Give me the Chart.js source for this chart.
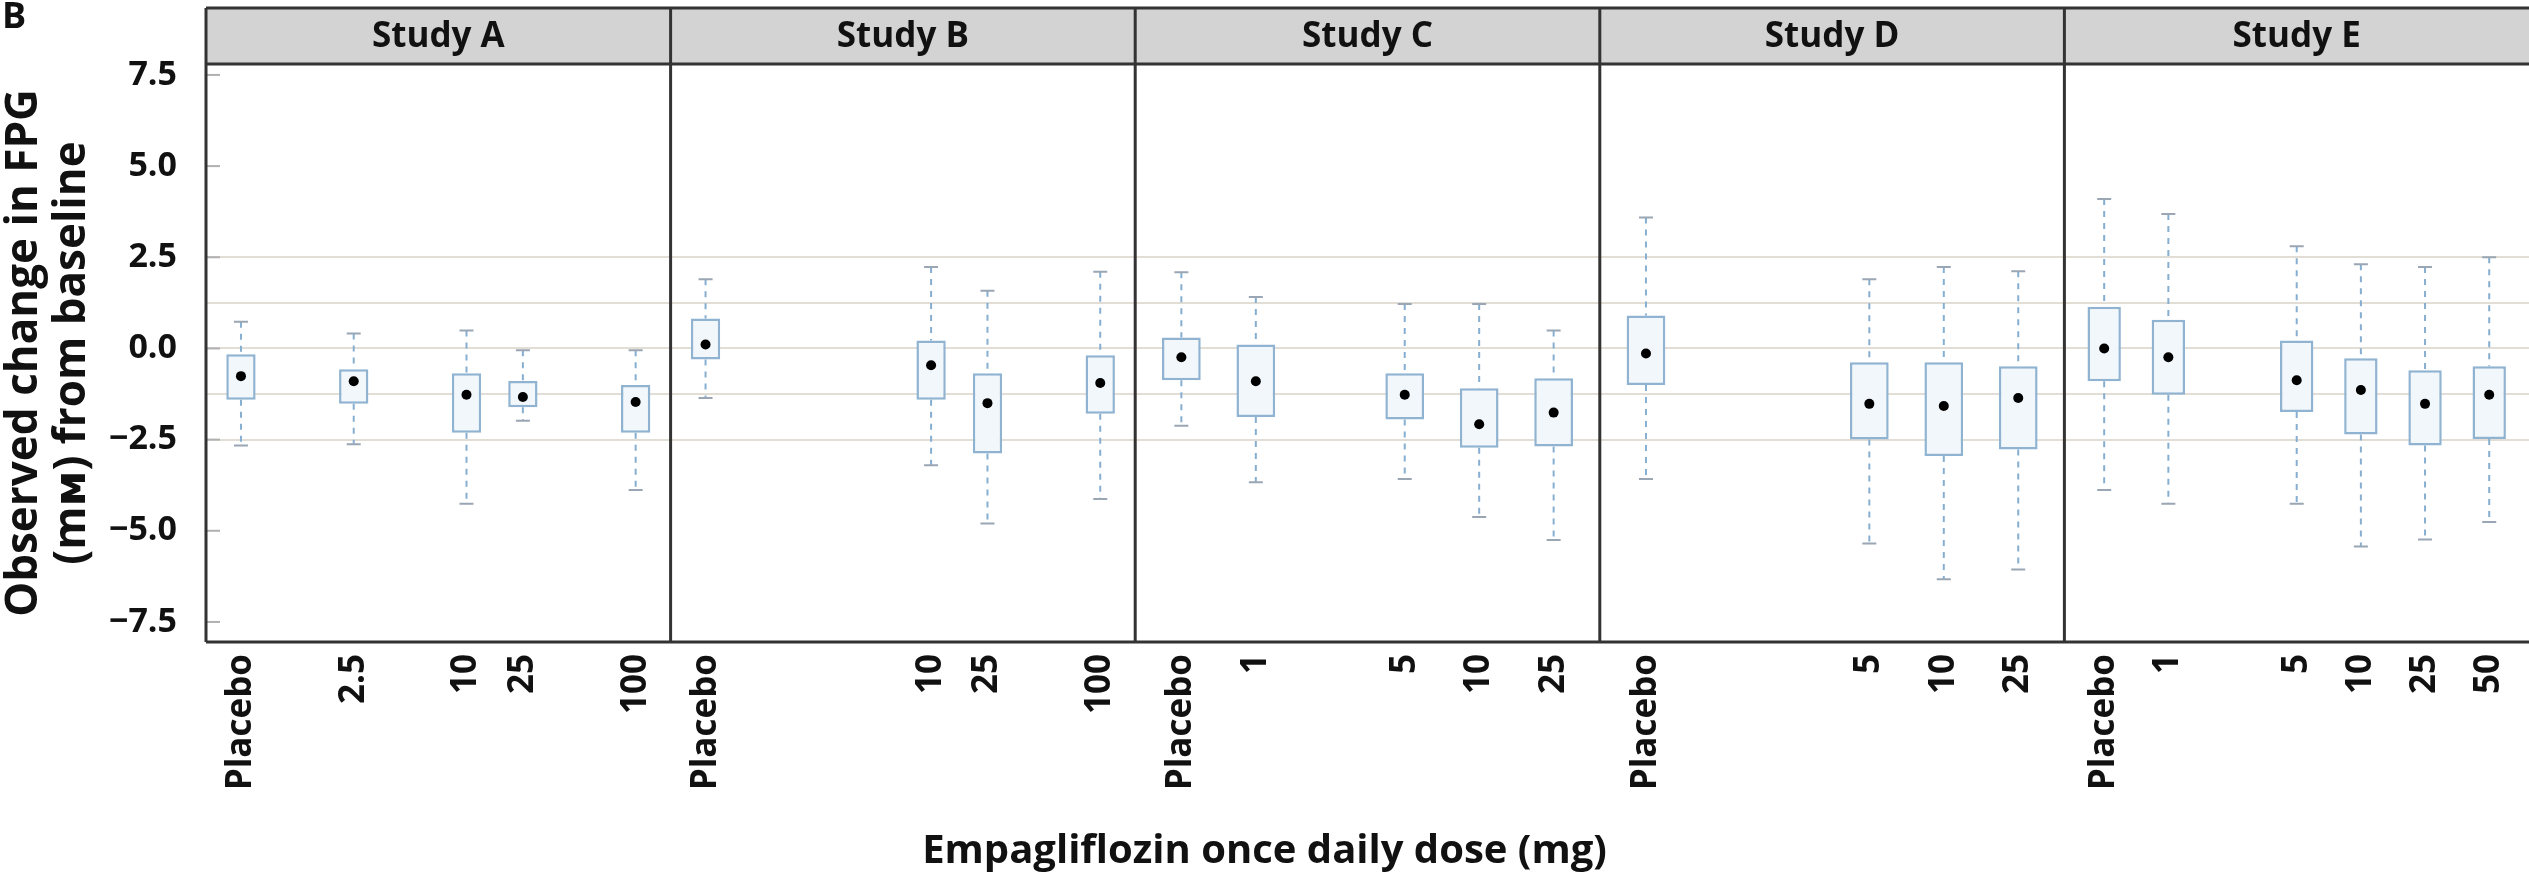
<!DOCTYPE html>
<html>
<head>
  <meta charset="UTF-8">
  <title>Observed change in FPG by dose</title>
  <script src="https://cdn.jsdelivr.net/npm/chart.js"></script>
  <style>
    body { margin: 0; background: #fff; }
  </style>
</head>
<body>
  <canvas id="fpg" width="2529" height="872"></canvas>

  <script>
  // x slots shared by every panel (a panel only labels the doses it has)
  const doseLevels = ['Placebo', '1', '2.5', '5', '10', '25', '50', '100'];
  const studyNames = ['Study A', 'Study B', 'Study C', 'Study D', 'Study E'];
  const yTickValues = [-7.5, -5, -2.5, -1.25, 0, 1.25, 2.5, 5, 7.5];
  const yGridValues = [-2.5, -1.25, 0, 1.25, 2.5];

  // Study A
  const studyADoses = ['Placebo', '2.5', '10', '25', '100'];
  const studyALow   = [-2.66, -2.63, -4.26, -1.98, -3.88];
  const studyAQ1    = [-1.41, -1.52, -2.31, -1.61, -2.31];
  const studyAMid   = [-0.76, -0.90, -1.27, -1.33, -1.47];
  const studyAQ3    = [-0.16, -0.57, -0.68, -0.89, -1.00];
  const studyAHigh  = [0.73, 0.41, 0.49, -0.05, -0.05];

  // Study B
  const studyBDoses = ['Placebo', '10', '25', '100'];
  const studyBLow   = [-1.36, -3.20, -4.80, -4.13];
  const studyBQ1    = [-0.30, -1.41, -2.88, -1.79];
  const studyBMid   = [0.11, -0.46, -1.50, -0.95];
  const studyBQ3    = [0.82, 0.22, -0.68, -0.19];
  const studyBHigh  = [1.90, 2.23, 1.58, 2.10];

  // Study C
  const studyCDoses = ['Placebo', '1', '5', '10', '25'];
  const studyCLow   = [-2.12, -3.67, -3.58, -4.62, -5.25];
  const studyCQ1    = [-0.87, -1.88, -1.95, -2.72, -2.69];
  const studyCMid   = [-0.24, -0.90, -1.27, -2.08, -1.76];
  const studyCQ3    = [0.30, 0.11, -0.68, -1.09, -0.82];
  const studyCHigh  = [2.09, 1.41, 1.22, 1.22, 0.49];

  // Study D
  const studyDDoses = ['Placebo', '5', '10', '25'];
  const studyDLow   = [-3.58, -5.35, -6.33, -6.06];
  const studyDQ1    = [-1.00, -2.50, -2.95, -2.77];
  const studyDMid   = [-0.14, -1.52, -1.58, -1.36];
  const studyDQ3    = [0.90, -0.38, -0.38, -0.49];
  const studyDHigh  = [3.59, 1.90, 2.23, 2.12];

  // Study E
  const studyEDoses = ['Placebo', '1', '5', '10', '25', '50'];
  const studyELow   = [-3.88, -4.26, -4.26, -5.43, -5.24, -4.76];
  const studyEQ1    = [-0.90, -1.27, -1.74, -2.36, -2.66, -2.48];
  const studyEMid   = [0.00, -0.24, -0.87, -1.14, -1.52, -1.27];
  const studyEQ3    = [1.14, 0.79, 0.22, -0.27, -0.60, -0.49];
  const studyEHigh  = [4.10, 3.69, 2.80, 2.31, 2.23, 2.50];

  const studies = [
    { doses: studyADoses, low: studyALow, q1: studyAQ1, mid: studyAMid, q3: studyAQ3, high: studyAHigh },
    { doses: studyBDoses, low: studyBLow, q1: studyBQ1, mid: studyBMid, q3: studyBQ3, high: studyBHigh },
    { doses: studyCDoses, low: studyCLow, q1: studyCQ1, mid: studyCMid, q3: studyCQ3, high: studyCHigh },
    { doses: studyDDoses, low: studyDLow, q1: studyDQ1, mid: studyDMid, q3: studyDQ3, high: studyDHigh },
    { doses: studyEDoses, low: studyELow, q1: studyEQ1, mid: studyEMid, q3: studyEQ3, high: studyEHigh },
  ];

  const boxLine = '#8fb3d1';
  const boxFill = '#f1f7fb';
  const whiskerColor = '#86aed0';
  const capColor = '#9aa6b3';
  const gridColor = '#e2ded6';
  const frameColor = '#333333';
  const textColor = '#111111';

  Chart.defaults.font.family = '"Open Sans", "DejaVu Sans", sans-serif';
  Chart.defaults.font.weight = 'bold';

  const datasets = [];
  const scales = {
    y: {
      type: 'linear',
      position: 'left',
      min: -8.05,
      max: 7.8,
      afterBuildTicks: s => { s.ticks = yTickValues.map(v => ({ value: v })); },
      afterFit: s => { s.width = 206; },
      ticks: {
        padding: 29,
        color: textColor,
        font: { size: 34, weight: 'bold' },
        callback: v => Math.abs(v) === 1.25 ? '' : (v < 0 ? '\u2212' : '') + Math.abs(v).toFixed(1)
      },
      grid: {
        drawTicks: false,
        lineWidth: 2,
        color: c => yGridValues.includes(c.tick.value) ? gridColor : 'rgba(0,0,0,0)'
      },
      border: { display: false },
      title: {
        display: true,
        text: ['Observed change in FPG', '(m\u1D0D) from baseline'],
        color: textColor,
        font: { size: 44, weight: 'bold', lineHeight: 1.1 },
        padding: 0
      }
    }
  };

  studies.forEach((st, i) => {
    const axisId = 'x' + i;
    const slots = st.doses.map(d => doseLevels.indexOf(d));
    const maxSlot = Math.max(...slots);

    const whiskers = [];
    const caps = [];
    slots.forEach((s, k) => {
      whiskers.push({ x: s, y: st.high[k] }, { x: s, y: st.q3[k] }, { x: s, y: null });
      whiskers.push({ x: s, y: st.q1[k] }, { x: s, y: st.low[k] }, { x: s, y: null });
      caps.push({ x: s, y: st.high[k] }, { x: s, y: st.low[k] });
    });

    datasets.push(
      {
        type: 'line', xAxisID: axisId, yAxisID: 'y', order: 0,
        data: slots.map((s, k) => ({ x: s, y: st.mid[k] })),
        showLine: false, pointRadius: 5, pointBackgroundColor: '#000', pointBorderWidth: 0
      },
      {
        type: 'line', xAxisID: axisId, yAxisID: 'y', order: 1,
        data: caps, showLine: false,
        pointStyle: 'line', pointRadius: 7, pointBorderColor: capColor, pointBorderWidth: 2
      },
      {
        type: 'bar', xAxisID: axisId, yAxisID: 'y', order: 2,
        data: slots.map((s, k) => ({ x: s, y: [st.q1[k], st.q3[k]] })),
        backgroundColor: boxFill, borderColor: boxLine, borderWidth: 2.5, borderSkipped: false,
        grouped: false, barPercentage: 0.52, categoryPercentage: 1
      },
      {
        type: 'line', xAxisID: axisId, yAxisID: 'y', order: 3,
        data: whiskers, borderColor: whiskerColor, borderWidth: 2, borderDash: [6, 6],
        pointRadius: 0, spanGaps: false
      }
    );

    scales[axisId] = {
      type: 'linear',
      axis: 'x',
      position: 'bottom',
      stack: 'panels',
      stackWeight: 1,
      offset: false,
      min: -0.62,
      max: maxSlot + 0.62,
      afterBuildTicks: s => { s.ticks = slots.map(v => ({ value: v })); },
      afterFit: s => {
        s.height = 166;
        s.paddingLeft = 0;
        s.paddingRight = 0;
      },
      ticks: {
        autoSkip: false,
        minRotation: 90,
        maxRotation: 90,
        padding: 12,
        color: textColor,
        font: { size: 35, weight: 'bold' },
        callback: v => doseLevels[v]
      },
      grid: { display: false, drawTicks: false },
      border: { display: false }
    };
  });

  // grey strips, panel borders and the small inner y ticks
  const panelFrame = {
    id: 'panelFrame',
    afterDraw(chart) {
      const { ctx, chartArea } = chart;
      const stripTop = 8;
      const yScale = chart.scales.y;
      ctx.save();

      studyNames.forEach((name, i) => {
        const sc = chart.scales['x' + i];
        ctx.fillStyle = '#d3d3d3';
        ctx.fillRect(sc.left, stripTop, sc.right - sc.left, chartArea.top - stripTop);
        ctx.fillStyle = textColor;
        ctx.font = 'bold 35px "Open Sans", sans-serif';
        ctx.textAlign = 'center';
        ctx.textBaseline = 'middle';
        ctx.fillText(name, (sc.left + sc.right) / 2, (stripTop + chartArea.top) / 2 + 1);
      });

      ctx.strokeStyle = '#b0b0b0';
      ctx.lineWidth = 2;
      yTickValues.filter(v => Math.abs(v) !== 1.25).forEach(v => {
        const py = yScale.getPixelForValue(v);
        ctx.beginPath();
        ctx.moveTo(chartArea.left, py);
        ctx.lineTo(chartArea.left + 14, py);
        ctx.stroke();
      });

      ctx.strokeStyle = frameColor;
      ctx.lineWidth = 3;
      ctx.beginPath();
      studyNames.forEach((name, i) => {
        const sc = chart.scales['x' + i];
        ctx.moveTo(sc.left, stripTop);
        ctx.lineTo(sc.left, chartArea.bottom);
      });
      [stripTop, chartArea.top, chartArea.bottom].forEach(py => {
        ctx.moveTo(chartArea.left, py);
        ctx.lineTo(chartArea.right, py);
      });
      ctx.stroke();

      ctx.fillStyle = textColor;
      ctx.font = 'bold 36px "Open Sans", sans-serif';
      ctx.textAlign = 'left';
      ctx.textBaseline = 'top';
      ctx.fillText('B', 2, 0);
      ctx.restore();
    }
  };

  new Chart(document.getElementById('fpg'), {
    type: 'bar',
    data: { datasets },
    options: {
      responsive: false,
      animation: false,
      devicePixelRatio: 1,
      layout: { autoPadding: false, padding: { top: 64, left: 0, right: 0, bottom: 0 } },
      scales,
      plugins: {
        legend: { display: false },
        tooltip: { enabled: false },
        title: {
          display: true,
          position: 'bottom',
          text: 'Empagliflozin once daily dose (mg)',
          color: textColor,
          font: { size: 40, weight: 'bold' },
          padding: { top: 20, bottom: -4 }
        }
      }
    },
    plugins: [panelFrame]
  });
  </script>
</body>
</html>
